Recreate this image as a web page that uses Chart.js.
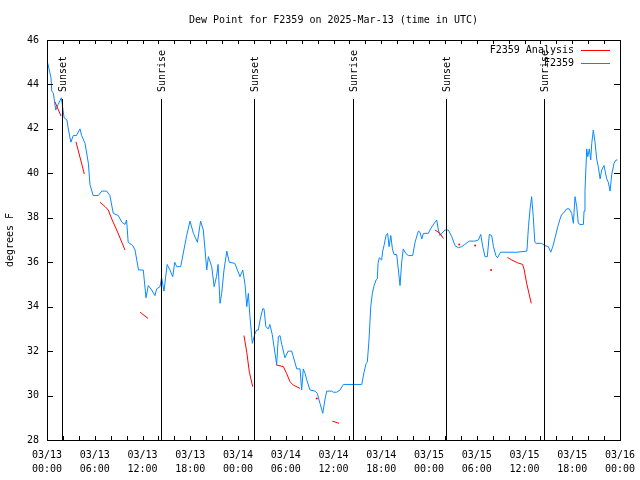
<!DOCTYPE html>
<html>
<head>
<meta charset="utf-8">
<script src="https://cdn.jsdelivr.net/npm/chart.js@4/dist/chart.umd.min.js"></script>
<style>
  html, body { margin: 0; padding: 0; background: #fff; }
  #wrap { width: 640px; height: 480px; }
</style>
</head>
<body>
<div id="wrap"><canvas id="dewChart" width="640" height="480"></canvas></div>
<script>
// hours since 2025-03-13 00:00 UTC
var stationHours = [0.1, 0.5, 0.6, 0.8, 1.1, 1.4, 1.8, 1.9, 2.15, 2.5, 2.7, 3.0, 3.3, 3.7, 4.15, 4.35, 4.78, 5.2, 5.4, 5.8,
    6.45, 6.88, 7.5, 7.9, 8.33, 8.96, 9.4, 9.8, 10.0, 10.2, 10.77, 11.06, 11.5, 12.1, 12.44, 12.73, 13.15, 13.57, 13.78, 14.2,
    14.4, 14.7, 15.1, 15.45, 15.8, 16.05, 16.3, 16.8, 17.2, 17.55, 17.97, 18.4, 18.9, 19.3, 19.64, 19.86, 20.07, 20.28, 20.7, 21.0,
    21.3, 21.5, 21.74, 21.95, 22.24, 22.6, 22.9, 23.6, 24.25, 24.6, 24.9, 25.1, 25.3, 25.5, 25.8, 26.14, 26.35, 26.56, 26.77, 27.1,
    27.27, 27.5, 27.8, 28.0, 28.3, 28.65, 28.86, 29.07, 29.28, 29.5, 29.9, 30.3, 30.75, 30.95, 31.38, 31.8, 32.0, 32.2, 32.42, 32.64,
    33.05, 33.68, 33.96, 34.3, 34.65, 34.94, 35.15, 35.77, 35.98, 36.4, 36.82, 37.24, 39.55, 39.84, 40.1, 40.25, 40.46, 40.68, 40.88, 41.1,
    41.35, 41.5, 41.6, 41.75, 42.05, 42.18, 42.35, 42.6, 42.8, 42.98, 43.2, 43.4, 43.6, 43.94, 44.15, 44.36, 44.57, 44.77, 45.07, 45.4,
    45.95, 46.25, 46.66, 46.87, 47.1, 47.3, 47.92, 48.2, 48.75, 48.97, 49.18, 49.38, 49.6, 50.0, 50.43, 50.86, 51.27, 51.69, 52.1, 52.5,
    53.05, 53.56, 53.78, 54.2, 54.5, 54.75, 55.04, 55.33, 55.58, 55.88, 56.1, 56.4, 56.6, 57.0, 57.55, 58.18, 59.03, 60.3, 60.5, 60.7,
    60.9, 61.1, 61.3, 61.45, 62.15, 62.57, 63.0, 63.3, 63.55, 63.84, 64.18, 64.47, 64.68, 64.88, 65.3, 65.63, 65.93, 66.14, 66.35, 66.56,
    66.76, 66.97, 67.4, 67.48, 67.6, 67.82, 67.95, 68.15, 68.32, 68.45, 68.65, 68.86, 69.07, 69.27, 69.5, 69.7, 69.99, 70.33, 70.53, 70.75,
    70.96, 71.25, 71.5, 71.67];
var stationDew = [44.95, 44.3, 43.7, 43.6, 42.85, 43.1, 43.4, 43.15, 42.5, 42.4, 41.95, 41.4, 41.7, 41.7, 42.0, 41.7, 41.35, 40.45, 39.5, 39.0,
    39.0, 39.2, 39.2, 39.0, 38.2, 38.1, 37.8, 37.7, 37.9, 36.9, 36.75, 36.55, 35.65, 35.65, 34.4, 34.95, 34.75, 34.5, 34.8, 34.9,
    35.3, 34.7, 35.9, 35.65, 35.35, 36.0, 35.8, 35.8, 36.55, 37.2, 37.85, 37.3, 36.9, 37.85, 37.45, 36.55, 35.65, 36.25, 35.8, 34.9,
    35.35, 35.9, 34.15, 34.6, 35.65, 36.5, 36.0, 35.95, 35.35, 35.65, 34.95, 34.0, 34.6, 33.55, 32.35, 32.8, 32.95, 32.95, 33.4, 33.9,
    33.9, 33.1, 33.0, 33.2, 32.75, 31.9, 31.4, 32.65, 32.7, 32.3, 31.7, 32.0, 32.0, 31.75, 31.2, 31.2, 30.25, 31.2, 31.0, 30.7,
    30.25, 30.2, 30.1, 29.65, 29.2, 29.85, 30.2, 30.2, 30.15, 30.15, 30.25, 30.5, 30.5, 31.05, 31.45, 31.5, 32.5, 34.0, 34.6, 34.95,
    35.2, 35.25, 35.95, 36.2, 36.1, 36.5, 36.75, 37.2, 37.3, 36.7, 37.2, 36.6, 36.35, 36.35, 35.65, 34.95, 36.0, 36.6, 36.4, 36.3,
    36.3, 36.9, 37.4, 37.35, 37.05, 37.3, 37.3, 37.5, 37.8, 37.9, 37.45, 37.2, 37.3, 37.45, 37.45, 37.15, 36.75, 36.65, 36.7, 36.8,
    36.95, 36.95, 36.95, 37.0, 37.25, 36.7, 36.25, 36.25, 37.25, 37.2, 36.7, 36.3, 36.2, 36.45, 36.45, 36.45, 36.45, 36.5, 37.6, 38.4,
    38.95, 38.05, 36.9, 36.85, 36.85, 36.75, 36.7, 36.45, 36.7, 37.1, 37.6, 37.95, 38.15, 38.2, 38.4, 38.4, 38.2, 37.75, 38.95, 38.5,
    37.75, 37.7, 37.7, 38.3, 39.2, 41.1, 40.75, 41.1, 40.6, 41.35, 41.95, 41.4, 40.65, 40.3, 39.75, 40.15, 40.35, 39.75, 39.6, 39.2,
    39.95, 40.45, 40.6, 40.6];

// analysis: null marks a break in the line
var analysisHours = [1.0, 1.76, 2.5, 3.64, 4.69, 5.5, 6.67, 7.3, 7.7, 8.13, 8.76, 9.4, 9.8, 10.5, 11.7, 12.7, 13.5,
    24.75, 25.1, 25.43, 25.85, 26.5, 28.78, 29.7, 30.1, 30.54, 30.96, 31.8, 32.5, 33.9, 34.5, 35.85, 36.7, 37.5,
    48.75, 49.38, 49.8, 50.5, 51.8, 52.5, 53.8, 54.5, 55.8, 56.5, 57.85, 58.4, 59.1, 59.77, 59.97, 60.27, 60.56, 60.85];
var analysisDew = [43.22, 42.58, null, 41.42, 39.97, null, 38.7, 38.5, 38.35, 37.95, 37.45, 36.9, 36.55, null, 33.75, 33.47, null,
    32.7, 31.95, 31.05, 30.4, null, 31.38, 31.3, 31.0, 30.62, 30.47, 30.32, null, 29.87, null, 28.85, 28.75, null,
    37.45, 37.3, 37.07, null, 36.8, null, 36.75, null, 35.65, null, 36.22, 36.1, 35.98, 35.9, 35.65, 35.05, 34.6, 34.15];

var sunHours = [1.92, 14.37, 26.05, 38.5, 50.18, 62.49];
var sunLabels = ['Sunset', 'Sunrise', 'Sunset', 'Sunrise', 'Sunset', 'Sunrise'];

var seriesNames = ['F2359 Analysis', 'F2359'];
var seriesColors = ['#ff0000', '#0a88ff'];

var fontFamily = '"DejaVu Sans Mono", "Liberation Mono", monospace';

function toPoints(xs, ys) {
    return xs.map(function (x, i) { return { x: x, y: ys[i] }; });
}

function hourLabel(v) {
    var day = 13 + Math.floor(v / 24);
    var hr = v % 24;
    return ['03/' + day, (hr < 10 ? '0' : '') + hr + ':00'];
}

// isolated analysis values get a dot, others stay plain lines
function loneRadius(ctx) {
    var d = ctx.dataset.data;
    var i = ctx.dataIndex;
    if (d[i].y === null) return 0;
    var prev = i > 0 ? d[i - 1].y : null;
    var next = i < d.length - 1 ? d[i + 1].y : null;
    return (prev === null && next === null) ? 1 : 0;
}

var gnuplotDecor = {
    id: 'gnuplotDecor',
    afterDatasetsDraw: function (chart) {
        var ctx = chart.ctx;
        var area = chart.chartArea;
        var xs = chart.scales.x;
        var ys = chart.scales.y;
        ctx.save();
        ctx.strokeStyle = '#000';
        ctx.lineWidth = 1;

        // sunrise / sunset markers
        ctx.font = '10px ' + fontFamily;
        ctx.fillStyle = '#000';
        sunHours.forEach(function (h, i) {
            var px = Math.round(xs.getPixelForValue(h)) + 0.5;
            ctx.beginPath();
            ctx.moveTo(px, area.top + 59);
            ctx.lineTo(px, area.bottom);
            ctx.stroke();
            ctx.save();
            ctx.translate(px + 1, area.top + 52);
            ctx.rotate(-Math.PI / 2);
            ctx.textAlign = 'left';
            ctx.textBaseline = 'middle';
            ctx.fillText(sunLabels[i], 0, 0);
            ctx.restore();
        });

        // frame
        ctx.strokeRect(Math.round(area.left) + 0.5, Math.round(area.top) + 0.5,
            Math.round(area.right - area.left), Math.round(area.bottom - area.top));

        // inward tick marks
        ctx.beginPath();
        for (var h = 0; h <= 72; h += 2) {
            var tx = Math.round(xs.getPixelForValue(h)) + 0.5;
            ctx.moveTo(tx, area.bottom);
            ctx.lineTo(tx, area.bottom - 4);
            ctx.moveTo(tx, area.top);
            ctx.lineTo(tx, area.top + 4);
        }
        ys.ticks.forEach(function (t) {
            var ty = Math.round(ys.getPixelForValue(t.value)) + 0.5;
            ctx.moveTo(area.left, ty);
            ctx.lineTo(area.left + 6, ty);
            ctx.moveTo(area.right, ty);
            ctx.lineTo(area.right - 6, ty);
        });
        ctx.stroke();

        // legend, gnuplot style: text then sample line
        ctx.textAlign = 'right';
        ctx.textBaseline = 'middle';
        chart.data.datasets.forEach(function (ds, i) {
            var ly = area.top + 10 + i * 13;
            ctx.fillStyle = '#000';
            ctx.fillText(ds.label, area.right - 46, ly);
            ctx.strokeStyle = ds.borderColor;
            ctx.beginPath();
            ctx.moveTo(area.right - 39, Math.round(ly) + 0.5);
            ctx.lineTo(area.right - 10, Math.round(ly) + 0.5);
            ctx.stroke();
        });
        ctx.restore();
    }
};

var chart = new Chart(document.getElementById('dewChart').getContext('2d'), {
    type: 'line',
    data: {
        datasets: [{
            label: seriesNames[0],
            data: toPoints(analysisHours, analysisDew),
            borderColor: seriesColors[0],
            backgroundColor: seriesColors[0],
            borderWidth: 1,
            pointRadius: loneRadius,
            pointBorderWidth: 0,
            spanGaps: false,
            tension: 0
        }, {
            label: seriesNames[1],
            data: toPoints(stationHours, stationDew),
            borderColor: seriesColors[1],
            backgroundColor: seriesColors[1],
            borderWidth: 1,
            pointRadius: 0,
            tension: 0
        }]
    },
    options: {
        responsive: false,
        animation: false,
        layout: { padding: { left: 0, right: 20, top: 0, bottom: 0 } },
        plugins: {
            legend: { display: false },
            tooltip: { enabled: false },
            title: {
                display: true,
                fullSize: false,
                text: 'Dew Point for F2359 on 2025-Mar-13 (time in UTC)',
                color: '#000',
                font: { family: fontFamily, size: 10, weight: 'normal', lineHeight: 1.2 },
                padding: { top: 14, bottom: 14 }
            }
        },
        scales: {
            x: {
                type: 'linear',
                min: 0,
                max: 72,
                grid: { display: false, drawTicks: false },
                border: { display: false },
                ticks: {
                    stepSize: 6,
                    autoSkip: false,
                    maxRotation: 0,
                    padding: 8,
                    color: '#000',
                    font: { family: fontFamily, size: 10, lineHeight: 1.4 },
                    callback: function (v) { return hourLabel(v); }
                },
                afterFit: function (scale) {
                    scale.height = 40;
                    scale.paddingLeft = 0;
                    scale.paddingRight = 0;
                }
            },
            y: {
                min: 28,
                max: 46,
                grid: { display: false, drawTicks: false },
                border: { display: false },
                ticks: {
                    stepSize: 2,
                    padding: 8,
                    color: '#000',
                    font: { family: fontFamily, size: 10 }
                },
                title: {
                    display: true,
                    text: 'degrees F',
                    color: '#000',
                    font: { family: fontFamily, size: 10, lineHeight: 1.2 },
                    padding: { top: 4, bottom: 0 }
                },
                afterFit: function (scale) { scale.width = 47; }
            }
        }
    },
    plugins: [gnuplotDecor]
});
</script>
</body>
</html>
